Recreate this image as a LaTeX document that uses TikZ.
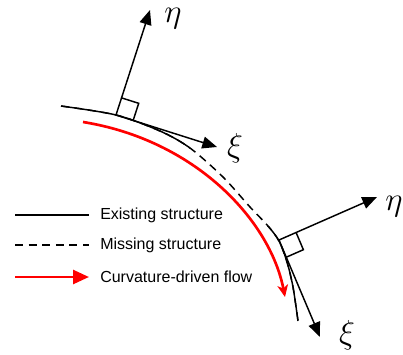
\documentclass[tikz,border=0pt]{standalone}
\usepackage{fontspec}
\setmainfont{Liberation Sans}
\usetikzlibrary{arrows.meta,calc}

\tikzset{
  existing/.style={line width=1.1pt},
  missing/.style={line width=1.1pt,dash pattern=on 6pt off 4.2pt},
  flow/.style={red,line width=2pt},
  axis/.style={line width=1.1pt,-{Triangle[length=11pt,width=9pt]}},
  greek/.style={font=\fontsize{24}{26}\selectfont,inner sep=0pt},
  legtext/.style={anchor=west,inner sep=0pt},
}
\newcommand{\structcurve}{plot[smooth] coordinates {(61,106) (116,115) (160,131) (190,148) (223,177) (250,207) (268,226) (279,241) (287,262) (293,287) (298,321)}}

\begin{document}
\begin{tikzpicture}[x=0.75pt,y=-0.75pt,font=\fontsize{12}{14}\selectfont]
  \useasboundingbox (0,0) rectangle (403,354);
  % structure: missing part dashed, existing parts solid on top
  \draw[missing] \structcurve;
  \begin{scope}
    \clip (0,0) rectangle (190,354) (250,226) rectangle (403,354);
    \draw[existing] \structcurve;
  \end{scope}
  % flow
  \coordinate (flowa) at (83,122);
  \coordinate (flowb) at (285,297);
  \draw[flow,-{Stealth[length=9pt,width=8pt,inset=2.5pt]}] (flowa) .. controls (195,140) and (270,220) .. (flowb);

  % local frames
  \coordinate (foota) at (116,115);
  \coordinate (etaa) at (150,10);
  \coordinate (xia) at (217,147);
  \coordinate (footb) at (279,240);
  \coordinate (etab) at (377,197);
  \coordinate (xib) at (320,337);
  \draw[axis] (foota) -- (etaa);
  \draw[axis] (foota) -- (xia);
  \draw[axis] (footb) -- (etab);
  \draw[axis] (footb) -- (xib);
  \coordinate (sqan) at ($(foota)!13.5pt!(etaa)$);
  \coordinate (sqat) at ($(foota)!13.5pt!(xia)$);
  \draw[existing] (sqan) -- ($(sqan)+(sqat)-(foota)$) -- (sqat);
  \coordinate (sqbn) at ($(footb)!14pt!(etab)$);
  \coordinate (sqbt) at ($(footb)!14pt!(xib)$);
  \draw[existing] (sqbn) -- ($(sqbn)+(sqbt)-(footb)$) -- (sqbt);
  \node[greek] (labetaa) at (173,19) {$\eta$};
  \node[greek] (labxia) at (235,148) {$\xi$};
  \node[greek] (labetab) at (394,207) {$\eta$};
  \node[greek] (labxib) at (347,335) {$\xi$};

  % legend
  \node[legtext] (legexist) at (100,215) {Existing structure};
  \node[legtext] (legmiss) at (100,245) {Missing structure};
  \node[legtext] (legflow) at (100,277) {Curvature-driven flow};
  \draw[existing] (15,215) -- (89,215);
  \draw[missing] (15,245) -- (89,245);
  \draw[flow,-{Triangle[length=12pt,width=10.5pt]}] (15,277) -- (89,277);
\end{tikzpicture}
\end{document}
